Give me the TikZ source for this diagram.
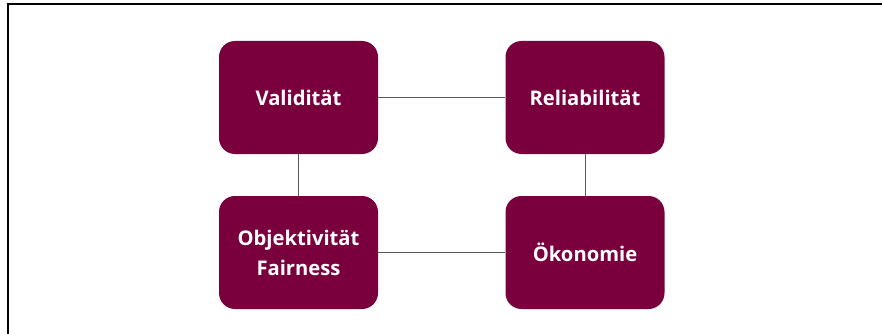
\documentclass[tikz,border=0pt]{standalone}
\usepackage{fontspec}
\setmainfont{Open Sans}
\definecolor{boxred}{RGB}{122,0,61}
\definecolor{linegray}{RGB}{90,90,90}
\begin{document}
\begin{tikzpicture}[x=1pt,y=-1pt,
  card/.style={fill=boxred,rounded corners=16pt,minimum width=159pt,minimum height=113pt,
    text=white,font=\fontsize{20.2}{30}\selectfont\bfseries,align=center,inner sep=0pt},
  link/.style={draw=linegray,line width=1pt}]
\useasboundingbox (0,0) rectangle (882,334);
\fill[white] (0,0) rectangle (882,334);
\draw[line width=2pt] (8,334) -- (8,4) -- (882,4);
\node[card] (val) at (298.5,97.5) {Validität};
\node[card] (rel) at (585,97.5) {Reliabilität};
\node[card] (obj) at (298.5,252.5) {Objektivität\\Fairness};
\node[card] (oek) at (585,252.5) {Ökonomie};
\draw[link] (val) -- (rel);
\draw[link] (obj) -- (oek);
\draw[link] (val) -- (obj);
\draw[link] (rel) -- (oek);
\end{tikzpicture}
\end{document}
